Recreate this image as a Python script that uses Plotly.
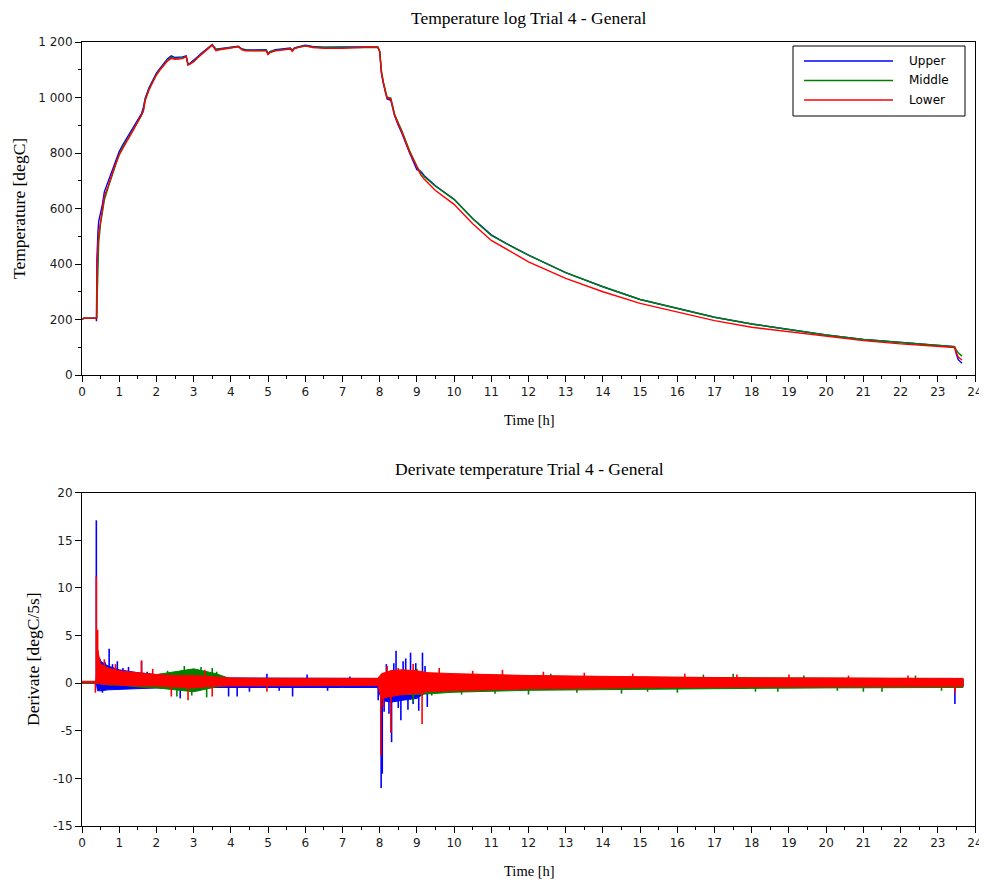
import plotly.graph_objects as go

# ---------------- data: temperature log ----------------
time_h = [0, 0.05, 0.38, 0.39, 0.40, 0.41, 0.43, 0.45, 0.5, 0.55, 0.6, 0.7, 0.8, 0.9, 1.0, 1.1, 1.2, 1.35,
          1.5, 1.6, 1.65, 1.7, 1.8, 1.9, 2.0, 2.1, 2.2, 2.3, 2.4, 2.5, 2.6, 2.7, 2.8, 2.85, 2.9, 3.0, 3.1,
          3.2, 3.3, 3.4, 3.5, 3.6, 3.7, 3.8, 4.0, 4.2, 4.3, 4.4, 4.6, 4.8, 4.95, 5.0, 5.05, 5.2, 5.4,
          5.6, 5.65, 5.7, 5.8, 6.0, 6.2, 6.5, 7.0, 7.5, 7.9, 7.95, 8.0, 8.05, 8.1, 8.15, 8.2, 8.3, 8.35,
          8.4, 8.5, 8.6, 8.8, 9.0, 9.1, 9.2, 9.5, 10, 10.5, 11, 11.5, 12, 13, 14, 15, 16, 17, 18, 19,
          20, 21, 22, 23, 23.45, 23.5, 23.55, 23.65]

temp_lower = [200, 205, 205, 204, 360, 440, 470, 510, 558, 600, 643, 680, 721, 760, 793, 820, 841, 875,
              913, 933, 950, 990, 1027, 1055, 1081, 1100, 1117, 1132, 1141, 1138, 1139, 1140, 1147, 1117, 1120, 1129, 1142,
              1153, 1163, 1177, 1189, 1169, 1172, 1174, 1177, 1183, 1172, 1168, 1168, 1169, 1168, 1155, 1162, 1168, 1172,
              1175, 1166, 1175, 1180, 1186, 1180, 1177, 1177, 1179, 1183, 1180, 1166, 1088, 1052, 1020, 998, 995, 965,
              937, 905, 875, 805, 748, 722, 705, 665, 615, 545, 485, 445, 408, 348, 300, 258, 226, 196, 172, 156,
              138, 124, 112, 102, 99, 80, 65, 54]

temp_middle = [200, 205, 205, 204, 205, 290, 420, 480, 545, 590, 630, 675, 718, 760, 795, 822, 845, 878,
               915, 935, 955, 993, 1030, 1058, 1083, 1102, 1119, 1134, 1145, 1141, 1142, 1143, 1148, 1118, 1121, 1130, 1143,
               1155, 1165, 1178, 1190, 1172, 1174, 1176, 1179, 1184, 1174, 1170, 1169, 1171, 1170, 1157, 1164, 1170, 1173,
               1176, 1168, 1176, 1181, 1186, 1182, 1180, 1180, 1181, 1183, 1181, 1168, 1092, 1055, 1024, 1001, 998, 968,
               940, 909, 879, 810, 752, 730, 714, 680, 633, 563, 503, 466, 432, 369, 318, 272, 240, 208, 184, 164,
               144, 128, 117, 107, 102, 90, 80, 68]

temp_upper = [200, 205, 205, 194, 414, 494, 520, 555, 580, 615, 660, 695, 735, 772, 805, 830, 852, 885,
              920, 942, 965, 998, 1035, 1062, 1088, 1106, 1123, 1140, 1150, 1144, 1145, 1146, 1150, 1119, 1123, 1133, 1146,
              1158, 1168, 1180, 1191, 1174, 1176, 1178, 1180, 1185, 1175, 1172, 1171, 1173, 1172, 1158, 1165, 1172, 1175,
              1178, 1170, 1178, 1182, 1188, 1184, 1181, 1182, 1183, 1184, 1182, 1165, 1085, 1050, 1018, 995, 990, 960,
              935, 900, 870, 802, 740, 735, 718, 682, 633, 564, 505, 467, 432, 369, 318, 272, 240, 208, 184, 164,
              144, 128, 117, 107, 102, 75, 55, 42]

# ---------------- data: derivative (envelope of the noisy signal + individual spikes) ----------------
band_time = [0, 0.38, 0.42, 0.5, 0.7, 1.0, 1.5, 2.0, 2.5, 3.0, 3.6, 4.0, 5.0, 6.0, 7.0, 7.95, 8.05, 8.3,
             8.6, 9.0, 9.3, 10, 12, 14, 16, 18, 20, 22, 23.4, 23.68]

lower_hi = [0.2, 0.2, 3.5, 2.0, 1.6, 1.3, 1.1, 0.9, 0.8, 0.8, 0.65, 0.55, 0.5, 0.5, 0.5, 0.5, 1.0, 1.3,
            1.4, 1.3, 1.1, 1.0, 0.8, 0.7, 0.6, 0.55, 0.55, 0.5, 0.5, 0.5]
lower_lo = [0.05, 0.05, 0.0, -0.1, -0.2, -0.2, -0.3, -0.3, -0.4, -0.5, -0.3, -0.25, -0.25, -0.25, -0.25, -0.25, -1.6, -1.4,
            -1.2, -1.1, -0.9, -0.8, -0.6, -0.5, -0.45, -0.4, -0.4, -0.35, -0.35, -0.35]

middle_hi = [0.1, 0.1, 2.0, 1.6, 1.3, 1.1, 1.0, 0.9, 1.2, 1.5, 1.0, 0.45, 0.45, 0.4, 0.4, 0.4, 0.4, 0.8,
             1.2, 1.1, 1.0, 0.9, 0.75, 0.65, 0.6, 0.55, 0.5, 0.5, 0.45, 0.45]
middle_lo = [0.0, 0.0, 0.0, -0.1, -0.2, -0.2, -0.4, -0.5, -0.7, -0.9, -0.4, -0.2, -0.2, -0.2, -0.2, -0.2, -0.8, -1.0,
             -1.2, -1.2, -1.1, -0.95, -0.75, -0.65, -0.6, -0.55, -0.5, -0.45, -0.45, -0.45]

upper_hi = [0.1, 0.1, 3.0, 2.3, 1.8, 1.4, 1.1, 0.9, 0.8, 0.6, 0.55, 0.55, 0.55, 0.5, 0.5, 0.5, 0.5, 1.3,
            1.3, 1.2, 0.8, 0.6, 0.55, 0.5, 0.45, 0.45, 0.4, 0.4, 0.4, 0.4]
upper_lo = [0.0, 0.0, -0.8, -0.8, -0.7, -0.6, -0.55, -0.5, -0.45, -0.4, -0.4, -0.45, -0.45, -0.45, -0.45, -0.45, -1.8, -2.0,
            -1.8, -1.6, -0.8, -0.5, -0.45, -0.4, -0.35, -0.35, -0.3, -0.3, -0.3, -0.3]

upper_spike_t = [0.385, 0.48, 0.55, 0.62, 0.73, 0.82, 0.95, 1.1, 1.25, 1.6, 1.75, 2.1, 2.64, 3.94, 4.17,
                 4.5, 4.97, 5.3, 5.66, 6.05, 6.6, 7.2, 7.96, 8.04, 8.07, 8.12, 8.18, 8.25, 8.32, 8.38, 8.44,
                 8.5, 8.57, 8.63, 8.70, 8.76, 8.83, 8.9, 8.97, 9.05, 9.15, 9.22, 9.28, 23.46]
upper_spike_v = [17.1, 2.6, -1.0, 2.2, 3.6, 2.0, 2.3, 1.6, 1.7, 2.3, 1.2, 1.0, -1.6, -1.4, -1.4,
                 -0.9, 1.0, -0.8, -1.4, 0.9, -0.8, 0.7, -1.8, -11.0, -9.5, -3.0, 2.0, -3.2, -6.2, 2.1, 3.4,
                 -2.6, -3.9, 2.3, 2.6, -2.8, 3.2, -2.2, 2.1, -2.9, 3.2, 1.8, -2.5, -2.2]

middle_spike_t = [0.42, 2.3, 2.55, 2.75, 2.95, 3.2, 3.35, 3.5, 3.62, 8.9, 9.0, 9.4, 10.2, 11.1, 12.0, 12.6,
                  13.3, 14.5, 15.2, 16.0, 16.7, 17.5, 18.1, 18.7, 19.4, 20.3, 21.0, 21.5, 22.4, 23.1]
middle_spike_v = [3.5, 1.3, -1.4, 1.8, -1.3, 1.7, -1.5, 1.6, 1.2, -2.0, 1.5, -1.3, -1.2, -1.1, -1.2, 1.0,
                  -1.0, -1.1, -0.9, -1.0, 0.9, 1.0, -0.9, -0.9, 0.8, -0.8, -0.9, -0.9, 0.8, -0.8]

lower_spike_t = [0.36, 0.385, 0.42, 0.6, 0.9, 1.6, 1.9, 2.4, 2.85, 3.3, 3.5, 4.97, 8.03, 8.1, 8.2, 8.3,
                 8.5, 8.9, 9.14, 9.6, 10.5, 11.3, 12.4, 13.5, 14.8, 16.2, 17.6, 19.0, 20.6, 22.2, 23.46]
lower_spike_v = [-1.0, 11.2, 5.6, 2.5, 2.0, 2.4, 1.5, -1.4, -1.8, 1.4, -1.4, -0.9, -7.6, -2.5, 1.8, -5.2,
                 1.6, 2.0, -4.3, 1.6, 1.3, 1.4, 1.2, 1.1, 1.0, 1.0, 0.9, 0.9, 0.8, 0.8, -1.0]

series_names = ["Upper", "Middle", "Lower"]
series_colors = ["#0000ff", "#008000", "#ff0000"]

x_ticks = list(range(0, 25))
temp_ticks = [0, 200, 400, 600, 800, 1000, 1200]
deriv_ticks = [-15, -10, -5, 0, 5, 10, 15, 20]

# ---------------- figure ----------------
# the page places the figure 8 px from the top-left corner, so the figure is 8 px smaller
OFF = 8
W, H = 987 - OFF, 881 - OFF
ML, MR, MT, MB = 20, 2, 20, 2
PW, PH = W - ML - MR, H - MT - MB


def fx(p):
    return (p - OFF - ML) / PW


def fy(p):
    return 1 - (p - OFF - MT) / PH


fig = go.Figure()

temps = [temp_upper, temp_middle, temp_lower]
for name, col, vals in zip(series_names, series_colors, temps):
    fig.add_trace(go.Scatter(x=time_h, y=vals, mode="lines", name=name,
                             line=dict(color=col, width=1.4), xaxis="x", yaxis="y",
                             showlegend=False))

bands = [(upper_hi, upper_lo, upper_spike_t, upper_spike_v),
         (middle_hi, middle_lo, middle_spike_t, middle_spike_v),
         (lower_hi, lower_lo, lower_spike_t, lower_spike_v)]
for name, col, (hi, lo, st, sv) in zip(series_names, series_colors, bands):
    fig.add_trace(go.Scatter(x=band_time + band_time[::-1], y=hi + lo[::-1],
                             fill="toself", fillcolor=col, mode="lines",
                             line=dict(color=col, width=1), xaxis="x2", yaxis="y2",
                             showlegend=False, hoverinfo="skip"))
    sx, sy = [], []
    for t, v in zip(st, sv):
        sx += [t, t, None]
        sy += [0, v, None]
    fig.add_trace(go.Scatter(x=sx, y=sy, mode="lines", line=dict(color=col, width=1.6),
                             xaxis="x2", yaxis="y2", showlegend=False, hoverinfo="skip"))

tick_font = dict(family="DejaVu Sans", size=12, color="#1a1a1a")
title_font = dict(family="Liberation Serif", size=17.5, color="#000000")
xtitle_font = dict(family="Liberation Serif", size=14.5, color="#000000")

common_x = dict(range=[0, 24], tickmode="array", tickvals=x_ticks, ticks="outside", ticklen=6,
                tickcolor="#000", showline=True, linecolor="#000", linewidth=1, mirror=True,
                showgrid=False, zeroline=False, tickfont=tick_font, automargin=False,
                minor=dict(tickmode="linear", tick0=0, dtick=0.5, ticklen=3, ticks="outside", tickcolor="#000"))

fig.update_layout(
    width=W, height=H, autosize=False,
    margin=dict(l=ML, r=MR, t=MT, b=MB, autoexpand=False),
    paper_bgcolor="white", plot_bgcolor="white",
    separators=". ",
    showlegend=False,
    xaxis=dict(domain=[fx(82), fx(975)], anchor="y", **common_x),
    yaxis=dict(domain=[fy(375), fy(42)], anchor="x", range=[0, 1200], tickmode="array",
               tickvals=temp_ticks, separatethousands=True, ticks="outside", ticklen=6, tickcolor="#000",
               showline=True, linecolor="#000", linewidth=1, mirror=True, showgrid=False,
               zeroline=False, tickfont=tick_font, automargin=False,
               minor=dict(tickmode="linear", tick0=0, dtick=100, ticklen=3, ticks="outside", tickcolor="#000")),
    xaxis2=dict(domain=[fx(82), fx(975)], anchor="y2", **common_x),
    yaxis2=dict(domain=[fy(826), fy(492.7)], anchor="x2", range=[-15, 20], tickmode="array",
                tickvals=deriv_ticks, ticktext=[str(v) for v in deriv_ticks],
                ticks="outside", ticklen=6, tickcolor="#000",
                showline=True, linecolor="#000", linewidth=1, mirror=True, showgrid=False,
                zeroline=False, tickfont=tick_font, automargin=False),
)

ann = [
    dict(text="Temperature log Trial 4 - General", x=fx(529), y=fy(18), font=title_font),
    dict(text="Time [h]", x=fx(529), y=fy(420), font=xtitle_font),
    dict(text="Temperature [degC]", x=fx(19), y=fy(209), textangle=-90, font=title_font),
    dict(text="Derivate temperature Trial 4 - General", x=fx(529), y=fy(469), font=title_font),
    dict(text="Time [h]", x=fx(529), y=fy(871), font=xtitle_font),
    dict(text="Derivate [degC/5s]", x=fx(33), y=fy(659), textangle=-90, font=title_font),
]
for a in ann:
    fig.add_annotation(xref="paper", yref="paper", showarrow=False, xanchor="center",
                       yanchor="middle", **a)

# legend box (drawn manually to match the long sample lines)
fig.add_shape(type="rect", xref="paper", yref="paper", x0=fx(793), x1=fx(965),
              y0=fy(116), y1=fy(46), line=dict(color="#000", width=1), fillcolor="white", layer="above")
for i, (name, col) in enumerate(zip(series_names, series_colors)):
    yy = fy(61 + i * 19.5)
    fig.add_shape(type="line", xref="paper", yref="paper", x0=fx(804), x1=fx(893), y0=yy, y1=yy,
                  line=dict(color=col, width=1.4), layer="above")
    fig.add_annotation(xref="paper", yref="paper", x=fx(907), y=yy, text=name, showarrow=False,
                       xanchor="left", yanchor="middle",
                       font=dict(family="DejaVu Sans", size=12, color="#000"))

fig.write_html("out.html")
